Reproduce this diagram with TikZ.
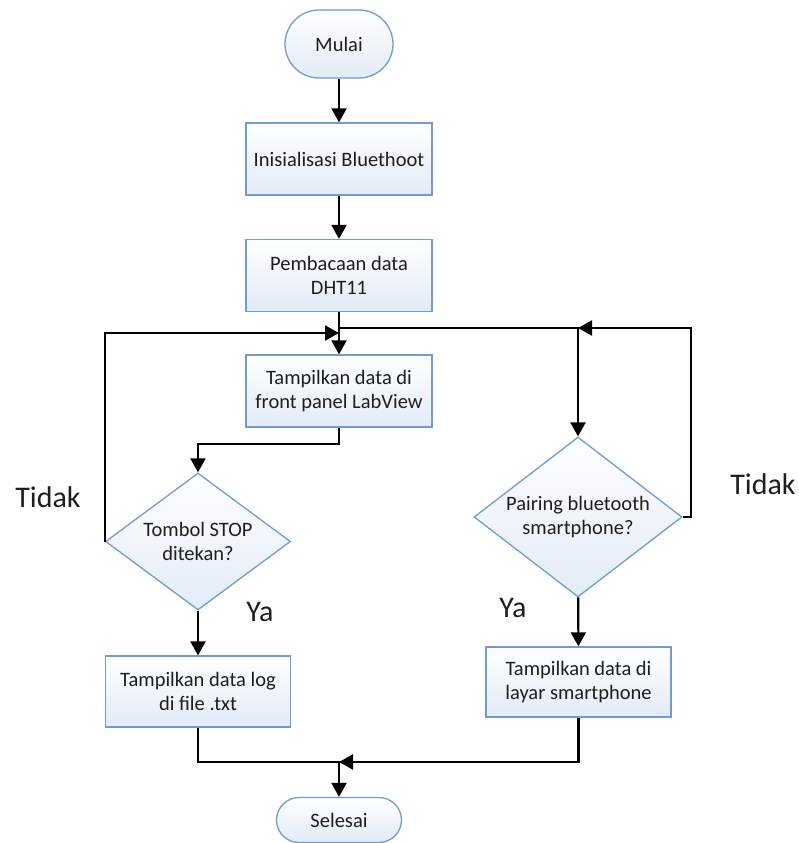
\documentclass[tikz,border=0pt]{standalone}
\usepackage{fontspec}
\setmainfont{Carlito}
\usetikzlibrary{arrows.meta,shapes.geometric,calc}
\definecolor{edgeblue}{RGB}{112,156,208}
\definecolor{fillblue}{RGB}{226,235,247}
\definecolor{inkgray}{RGB}{30,30,30}
\begin{document}
\begin{tikzpicture}[x=1pt,y=-1pt,
  shapebase/.style={draw=edgeblue, line width=1.3pt, top color=white, bottom color=fillblue,
    align=center, inner sep=0pt, text=inkgray, font=\fontsize{20.5}{24.5}\selectfont},
  procbox/.style={shapebase, rectangle, minimum width=186pt, minimum height=72pt},
  terminal/.style={shapebase, rectangle},
  decision/.style={shapebase, diamond, aspect=1.33},
  flow/.style={line width=2.2pt, -{Triangle[width=15pt,length=14pt]}},
  answer/.style={text=inkgray, font=\fontsize{30}{34}\selectfont}]
\useasboundingbox (0,0) rectangle (799,843);

% terminals
\node[terminal, minimum width=108pt, minimum height=68pt, rounded corners=34pt] (mulai) at (339,44) {Mulai};
\node[terminal, minimum width=125pt, minimum height=45pt, rounded corners=22.5pt] (selesai) at (339,820) {Selesai};

% process boxes
\node[procbox] (init) at (339,159) {Inisialisasi Bluethoot};
\node[procbox] (baca) at (339,275.5) {Pembacaan data\\DHT11};
\node[procbox] (panel) at (339,391) {Tampilkan data di\\front panel LabView};
\node[procbox, minimum width=185pt, minimum height=71pt] (logfile) at (198,691.5) {Tampilkan data log\\di file .txt};
\node[procbox, minimum width=185pt, minimum height=70pt] (layar) at (578.5,682) {Tampilkan data di\\layar smartphone};

% decisions
\node[decision, minimum width=185pt, minimum height=137pt] (stop) at (198,541.5) {Tombol STOP\\ditekan?};
\node[decision, minimum width=208pt, minimum height=160pt] (pair) at (578,517) {Pairing bluetooth\\smartphone?};

% junction points
\coordinate (joinL) at (339,333);
\coordinate (joinR) at (339,328);
\coordinate (pairTop) at (578,328);
\coordinate (loopR) at (691,328);
\coordinate (merge) at (339,762);

% main sequence
\draw[flow] (mulai) -- (init);
\draw[flow] (init) -- (baca);
\draw[flow] (baca) -- (panel);
\draw[flow] (panel.south) -- ++(0,16) -| (stop.north);
\draw[flow] (stop) -- (logfile);
\draw[flow] (stop.west) |- (joinL);

% bluetooth branch
\draw[flow] (joinR) -| (pair.north);
\draw[flow] (pair.east) -| (loopR) -- (pairTop);
\draw[flow] (pair) -- (layar);

% end
\draw[flow] (logfile.south) |- (merge) -- (selesai.north);
\draw[flow] (layar.south) |- (merge);

% branch labels
\node[answer] (tidakL) at (48,497) {Tidak};
\node[answer] (yaL) at (260,612) {Ya};
\node[answer] (yaR) at (513,608) {Ya};
\node[answer] (tidakR) at (763,484) {Tidak};
\end{tikzpicture}
\end{document}
